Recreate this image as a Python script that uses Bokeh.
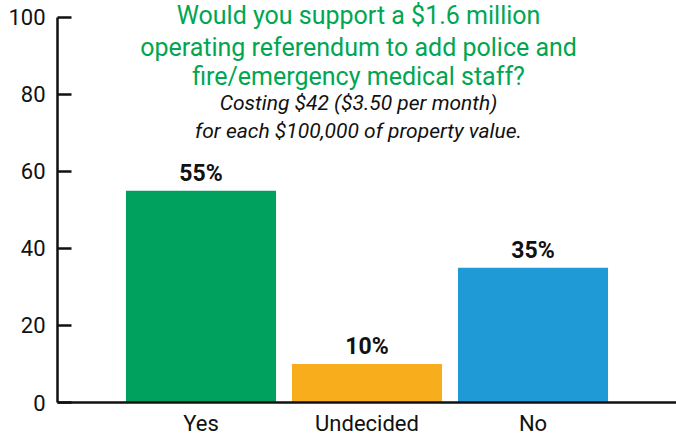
from bokeh.plotting import figure
from bokeh.models import ColumnDataSource, FactorRange, Range1d, Label
from bokeh.embed import file_html
from bokeh.resources import INLINE
from bokeh.core.properties import value

categories = ["Yes", "Undecided", "No"]
percents = [55, 10, 35]
colors = ["#00a05f", "#f8ad1d", "#1f9ad6"]
y_ticks = [0, 20, 40, 60, 80, 100]
title_lines = [
    "Would you support a $1.6 million",
    "operating referendum to add police and",
    "fire/emergency medical staff?",
]
subtitle_lines = [
    "Costing $42 ($3.50 per month)",
    "for each $100,000 of property value.",
]

FONT = "Roboto"

src = ColumnDataSource(dict(
    cat=categories,
    val=percents,
    color=colors,
    label=[f"{v}%" for v in percents],
))

p = figure(
    x_range=FactorRange(*categories, range_padding=0.3645, range_padding_units="absolute"),
    y_range=Range1d(0, 104.4),
    width=676, height=438,
    output_backend="svg", toolbar_location=None,
    min_border_left=57, min_border_right=0, min_border_top=0, min_border_bottom=35,
)
p.outline_line_color = None
p.grid.grid_line_color = None
p.background_fill_color = "white"
p.border_fill_color = "white"

p.vbar(x="cat", top="val", width=0.904, color="color", source=src, line_color=None)

p.text(x="cat", y="val", text="label", source=src, y_offset=-17,
       text_align="center", text_baseline="alphabetic",
       text_font=value(FONT), text_font_size="23px", text_font_style="bold",
       text_color="#111111")

# y axis
ya = p.yaxis[0]
ya.ticker = y_ticks
ya.bounds = (0, 100)
ya.axis_line_width = 2.5
ya.axis_line_color = "#111111"
ya.major_tick_in = 14
ya.major_tick_out = 0
ya.major_tick_line_width = 2.5
ya.major_tick_line_color = "#111111"
ya.minor_tick_line_color = None
ya.major_label_text_font = FONT
ya.major_label_text_font_size = "22px"
ya.major_label_text_color = "#111111"
ya.major_label_standoff = 12

# x axis
xa = p.xaxis[0]
xa.axis_line_width = 2.5
xa.axis_line_color = "#111111"
xa.major_tick_line_color = None
xa.minor_tick_line_color = None
xa.major_label_text_font = FONT
xa.major_label_text_font_size = "22px"
xa.major_label_text_color = "#111111"
xa.major_label_standoff = 2

# title block (positions in data units)
cx = 1.449
title_y = [100.5, 92.23, 84.72]
for txt, yy in zip(title_lines, title_y):
    p.add_layout(Label(x=cx, y=yy, text=txt, text_align="center", text_baseline="alphabetic",
                       text_font=FONT, text_font_size="25px", text_color="#00a651"))
sub_y = [77.72, 70.57]
for txt, yy in zip(subtitle_lines, sub_y):
    p.add_layout(Label(x=cx, y=yy, text=txt, text_align="center", text_baseline="alphabetic",
                       text_font=FONT, text_font_size="21px", text_font_style="italic",
                       text_color="#111111"))

open("out.html", "w").write(file_html(p, INLINE))
